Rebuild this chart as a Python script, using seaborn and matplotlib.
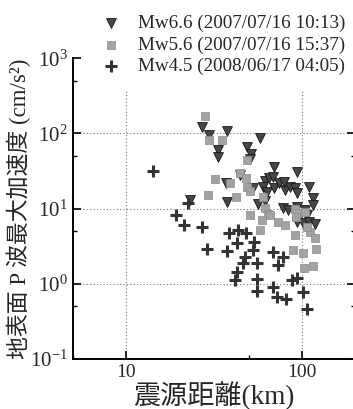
import matplotlib
matplotlib.use("Agg")
import matplotlib.pyplot as plt
import seaborn as sns
from matplotlib.ticker import LogLocator, LogFormatterMathtext, NullFormatter, FixedLocator, FixedFormatter

# ---------------- data ----------------
series_labels = ["Mw6.6 (2007/07/16 10:13)",
                 "Mw5.6 (2007/07/16 15:37)",
                 "Mw4.5 (2008/06/17 04:05)"]

mw66_dist = [27.0, 29.6, 37.5, 57.6, 33.3, 33.3, 48.6, 51.2, 50.6, 69.1,
             93.3, 44.4, 37.0, 52.6, 61.5, 64.8, 68.2, 59.9, 63.1, 69.1,
             73.8, 79.8, 85.2, 90.9, 93.3, 109, 115, 115, 37.5, 56.1,
             61.5, 77.8, 83.0, 93.3, 103.5, 106.4, 93.3, 100.9, 109, 118,
             23.1, 78.8]
mw66_acc = [122, 95.5, 108, 87.1, 60.3, 48.6, 66.1, 53.3, 45.7, 35.8,
            30.7, 28.0, 21.9, 18.8, 23.3, 25.5, 26.3, 19.4, 16.6, 18.8,
            21.9, 17.6, 19.4, 18.8, 16.1, 19.4, 13.8, 11.1, 12.2, 11.5,
            12.6, 10.2, 9.55, 10.5, 9.55, 8.19, 6.61, 6.41, 6.61, 6.22,
            13.0, 22.6]

mw56_dist = [28.1, 29.6, 35.1, 48.6, 32.0, 39.0, 44.4, 48.0, 48.6, 50.6,
             29.2, 42.1, 59.9, 61.5, 63.9, 50.6, 59.1, 72.8, 79.8, 90.9,
             93.3, 103.5, 65.6, 57.6, 90.9, 88.6, 100.9, 102.3, 115, 119.6,
             110.6, 118, 106.4, 92.1]
mw56_acc = [171, 81.9, 81.9, 44.3, 24.7, 21.9, 29.7, 25.5, 19.4, 17.1,
            15.1, 14.2, 14.2, 10.2, 8.45, 8.19, 7.03, 6.61, 6.03, 9.85,
            8.71, 8.98, 8.19, 5.17, 4.43, 2.80, 2.55, 1.61, 1.71, 2.88,
            4.86, 4.04, 5.67, 7.70]

mw45_dist = [14.3, 22.5, 19.3, 21.4, 27.0, 28.9, 38.5, 43.2, 48.0, 42.7,
             37.5, 53.3, 52.6, 47.4, 46.2, 42.7, 41.6, 55.4, 55.4, 55.4,
             68.2, 77.8, 72.8, 68.2, 71.9, 80.9, 87.4, 93.3, 100.9, 106.4]
mw45_acc = [31.6, 11.8, 8.19, 6.03, 5.67, 2.88, 4.71, 5.17, 4.71, 3.47,
            2.71, 3.58, 2.80, 2.26, 1.88, 1.42, 1.11, 1.88, 1.15, 0.79,
            2.63, 2.26, 1.76, 0.90, 0.66, 0.62, 1.11, 1.18, 0.77, 0.457]

x_ticks = [10, 100]
x_tick_labels = ["10", "100"]
y_ticks = [0.1, 1, 10, 100, 1000]
x_label = "震源距離(km)"
y_label = "地表面 P 波最大加速度 (cm/s²)"

# ---------------- style ----------------
sns.set_style("ticks")
plt.rcParams['font.family'] = ['Liberation Serif', 'Noto Sans CJK JP', 'DejaVu Sans']
plt.rcParams['mathtext.fontset'] = 'stix'

fig = plt.figure(figsize=(3.53, 4.09), dpi=100)
ax = fig.add_axes([73 / 353, 50.5 / 409, 282 / 353, 300 / 409])
ax.set_xscale('log')
ax.set_yscale('log')
ax.set_xlim(5, 200)
ax.set_ylim(0.1, 1000)

# grid lines (dotted)
grid_kw = dict(linestyle=(0, (1, 2)), color='#777777', linewidth=0.8, zorder=0.5)
for v in x_ticks:
    ax.axvline(v, **grid_kw)
for v in y_ticks[1:-1]:
    ax.axhline(v, **grid_kw)

sns.scatterplot(x=mw66_dist, y=mw66_acc, marker='v', s=50, color='#474747',
                edgecolor='#151515', linewidth=0.6, ax=ax, label=series_labels[0], zorder=3)
sns.scatterplot(x=mw56_dist, y=mw56_acc, marker='s', s=30, color='#a3a3a3',
                edgecolor='#8a8a8a', linewidth=0.5, ax=ax, label=series_labels[1], zorder=3)
sns.scatterplot(x=mw45_dist, y=mw45_acc, marker='+', s=64, color='#333333',
                linewidth=2.2, ax=ax, label=series_labels[2], zorder=3)

# axes / ticks
ax.xaxis.set_major_locator(FixedLocator(x_ticks))
ax.xaxis.set_major_formatter(FixedFormatter(x_tick_labels))
ax.xaxis.set_minor_locator(LogLocator(base=10, subs=[5]))
ax.xaxis.set_minor_formatter(NullFormatter())
ax.yaxis.set_major_locator(FixedLocator(y_ticks))
ax.yaxis.set_major_formatter(LogFormatterMathtext())
ax.yaxis.set_minor_locator(LogLocator(base=10, subs=[5]))
ax.yaxis.set_minor_formatter(NullFormatter())

ax.tick_params(which='both', direction='in', left=True, right=True, bottom=True, top=False,
               color='black')
ax.tick_params(which='major', length=6, width=1.2)
ax.tick_params(which='minor', length=3, width=1.0)
ax.tick_params(axis='y', labelsize=15, pad=4)
ax.tick_params(axis='x', labelsize=14, pad=4)

ax.spines['top'].set_visible(False)
for s in ['left', 'bottom', 'right']:
    ax.spines[s].set_linewidth(1.4)
    ax.spines[s].set_color('black')

ax.set_xlabel(x_label, fontsize=19.5)
ax.xaxis.set_label_coords(0.5, -0.075)
ax.set_ylabel(y_label, fontsize=16.5)
ax.yaxis.set_label_coords(-0.15, 0.5)

handles, labels = ax.get_legend_handles_labels()
leg = ax.legend(handles, labels, loc='center left',
                bbox_to_anchor=(86 / 353, 1 - 45 / 409), bbox_transform=fig.transFigure,
                frameon=True, facecolor='white', edgecolor='none', framealpha=1,
                fancybox=False, borderpad=0.8, borderaxespad=0, handlelength=1.0,
                handletextpad=0.9, labelspacing=0.22, fontsize=13.8, scatterpoints=1)
leg.set_zorder(10)

fig.savefig('out.png', dpi=100)
